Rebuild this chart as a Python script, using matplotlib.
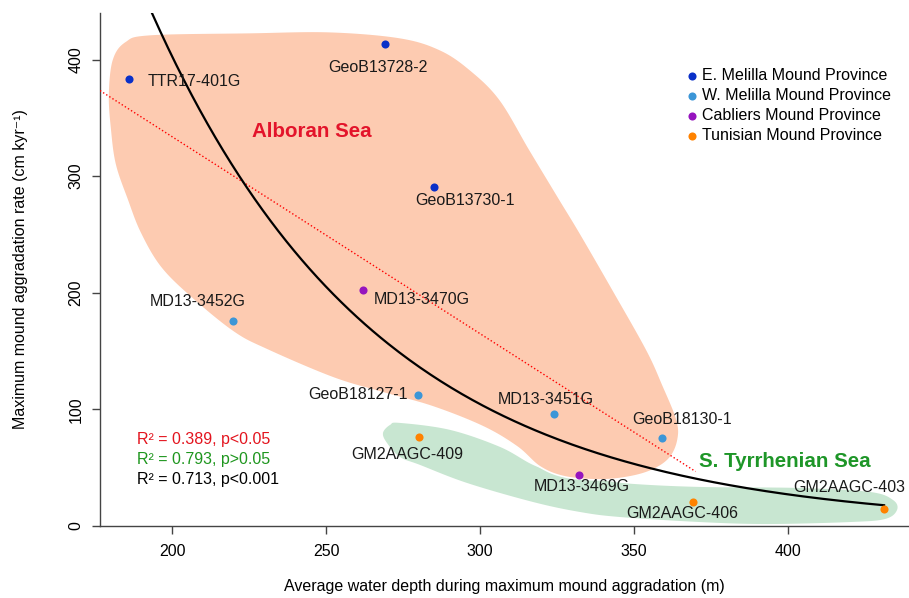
import numpy as np
import matplotlib
matplotlib.use("Agg")
import matplotlib.pyplot as plt

plt.rcParams['font.family'] = ['Liberation Sans', 'DejaVu Sans']

# cores, water depth (m) and max aggradation rate (cm/kyr)
cores = ['TTR17-401G', 'GeoB13728-2', 'GeoB13730-1', 'MD13-3452G', 'MD13-3470G',
         'GeoB18127-1', 'MD13-3451G', 'GM2AAGC-409', 'MD13-3469G', 'GeoB18130-1',
         'GM2AAGC-406', 'GM2AAGC-403']
depth = np.array([185.9, 269.2, 285.0, 219.9, 262.1, 280.0, 324.0, 280.1, 332.2, 359.0, 369.2, 431.2])
rate = np.array([383.4, 413.5, 290.4, 175.4, 202.6, 112.7, 95.9, 76.4, 43.8, 75.5, 20.9, 14.3])
province = ['E', 'E', 'E', 'W', 'C', 'W', 'W', 'T', 'C', 'W', 'T', 'T']
sea = ['A', 'A', 'A', 'A', 'A', 'A', 'A', 'T', 'A', 'A', 'T', 'T']

prov_names = {'E': 'E. Melilla Mound Province', 'W': 'W. Melilla Mound Province',
              'C': 'Cabliers Mound Province', 'T': 'Tunisian Mound Province'}
prov_cols = {'E': '#0a30c8', 'W': '#3c96d7', 'C': '#9614be', 'T': '#ff8200'}

# exponential fit over all cores: rate = a*exp(b*depth)
exp_a = 5982.0
exp_b = -0.01349
# red linear fit over the Alboran cores only, drawn up to this depth
lin_end = 370.0

# outlines of the two sea groups
alb_x = [179.2, 180.5, 184.7, 192.9, 225.3, 251.3, 274.0, 287.0, 296.8, 306.5, 316.2, 326.0,
         332.5, 343.2, 354.2, 359.4, 364.0, 364.3, 361.7, 356.2, 348.7, 339.0, 327.6, 319.5,
         312.0, 301.0, 284.7, 268.5, 252.3, 230.8, 219.8, 205.8, 196.1, 189.6, 185.4, 181.5, 179.9]
alb_y = [370.0, 400.0, 415.5, 421.5, 423.2, 424.0, 418.9, 408.6, 391.4, 365.7, 322.7, 279.8,
         251.5, 202.6, 151.1, 121.0, 91.0, 73.8, 58.4, 48.1, 42.1, 39.5, 42.1, 50.6,
         67.8, 85.0, 102.1, 114.2, 127.0, 151.1, 166.5, 196.6, 222.3, 251.5, 279.8, 309.9, 339.9]
tyr_x = [268.5, 270.8, 274.0, 290.3, 306.5, 317.2, 326.0, 339.0, 349.7, 371.4, 403.9, 426.6,
         434.1, 435.4, 431.5, 420.1, 393.2, 371.4, 345.5, 332.5, 317.2, 295.8, 280.5, 274.0, 269.8]
tyr_y = [79.8, 86.7, 88.4, 82.4, 67.8, 52.4, 44.6, 39.5, 36.1, 33.5, 32.6, 29.2,
         22.3, 13.7, 6.0, 3.4, 1.7, 3.4, 7.7, 12.0, 20.6, 36.9, 52.4, 59.2, 71.2]

# label offsets in pixels (dx, dy, ha)
lab_pos = {
    'TTR17-401G': (19, -3, 'left'), 'GeoB13728-2': (-7, -24, 'center'),
    'GeoB13730-1': (31, -13, 'center'), 'MD13-3452G': (-36, 20, 'center'),
    'MD13-3470G': (10, -10, 'left'), 'GeoB18127-1': (-11, 0, 'right'),
    'MD13-3451G': (-8, 15, 'center'), 'GM2AAGC-409': (-11, -18, 'center'),
    'MD13-3469G': (3, -12, 'center'), 'GeoB18130-1': (20, 18, 'center'),
    'GM2AAGC-406': (-11, -12, 'center'), 'GM2AAGC-403': (-35, 22, 'center'),
}


def smooth_closed(xs, ys, n=24):
    # closed catmull-rom spline through the outline points
    pts = np.column_stack([xs, ys])
    m = len(pts)
    t = np.linspace(0, 1, n, endpoint=False)[:, None]
    out = []
    for i in range(m):
        p0, p1, p2, p3 = pts[i - 1], pts[i], pts[(i + 1) % m], pts[(i + 2) % m]
        seg = 0.5 * (2 * p1 + (-p0 + p2) * t + (2 * p0 - 5 * p1 + 4 * p2 - p3) * t ** 2
                     + (-p0 + 3 * p1 - 3 * p2 + p3) * t ** 3)
        out.append(seg)
    return np.vstack(out)


fig = plt.figure(figsize=(9.09, 5.98), dpi=100)
ax = fig.add_axes([0.110, 0.1204, 0.890, 0.858])
xmin, xmax = 176.6, 439.3
ax.set_xlim(xmin, xmax)
ax.set_ylim(0, 440)

tyr = smooth_closed(tyr_x, tyr_y)
ax.fill(tyr[:, 0], tyr[:, 1], color='#c8e6d1', lw=0, zorder=1)
alb = smooth_closed(alb_x, alb_y)
ax.fill(alb[:, 0], alb[:, 1], facecolor='#fdcbb1', edgecolor='white', lw=1.2, zorder=2)

# linear fit, Alboran Sea
depth_a = np.array([d for d, s in zip(depth, sea) if s == 'A'])
rate_a = np.array([r for r, s in zip(rate, sea) if s == 'A'])
k, c = np.polyfit(depth_a, rate_a, 1)
xl = np.linspace(xmin, lin_end, 50)
ax.plot(xl, k * xl + c, ':', color='red', lw=1.0, zorder=3)

# exponential fit, all cores
xe = np.linspace(xmin, depth.max(), 300)
ax.plot(xe, exp_a * np.exp(exp_b * xe), color='black', lw=1.6, zorder=4)

for p in ['E', 'W', 'C', 'T']:
    sel = [i for i, q in enumerate(province) if q == p]
    ax.scatter(depth[sel], rate[sel], s=34, color=prov_cols[p], lw=0,
               label=prov_names[p], zorder=5)

for name, x, y in zip(cores, depth, rate):
    dx, dy, ha = lab_pos[name]
    ax.annotate(name, (x, y), xytext=(dx, dy), textcoords='offset pixels',
                ha=ha, va='center', fontsize=11.5, color='#1a1a1a', zorder=6)

ax.text(226.0, 338.2, 'Alboran Sea', color='#e3142b', fontsize=14.8,
        fontweight='bold', ha='left', va='center')
ax.text(371.1, 54.9, 'S. Tyrrhenian Sea', color='#1e9628', fontsize=14.8,
        fontweight='bold', ha='left', va='center')

ax.text(188.6, 73.8, 'R² = 0.389, p<0.05', color='#e3141e', fontsize=11.5, va='center')
ax.text(188.6, 56.7, 'R² = 0.793, p>0.05', color='#1e961e', fontsize=11.5, va='center')
ax.text(188.6, 39.5, 'R² = 0.713, p<0.001', color='black', fontsize=11.5, va='center')

leg = ax.legend(loc='upper left', bbox_to_anchor=(670 / 909, 1 - 54 / 598),
                bbox_transform=fig.transFigure, frameon=False, fontsize=11.5,
                handletextpad=0.1, labelspacing=0.3, handlelength=1.0,
                scatterpoints=1, markerscale=1.0)

for s in ['top', 'right']:
    ax.spines[s].set_visible(False)
for s in ['left', 'bottom']:
    ax.spines[s].set_color('#444444')
    ax.spines[s].set_linewidth(1.0)

ax.set_xticks([200, 250, 300, 350, 400])
ax.set_yticks([0, 100, 200, 300, 400])
ax.tick_params(axis='both', direction='out', length=6, width=1.0, color='#444444',
               labelsize=11.5)
ax.tick_params(axis='x', pad=7)
ax.tick_params(axis='y', pad=6)
for lab in ax.get_yticklabels():
    lab.set_rotation(90)
    lab.set_va('center')

ax.set_xlabel('Average water depth during maximum mound aggradation (m)',
              fontsize=11.5, labelpad=14)
ax.set_ylabel('Maximum mound aggradation rate (cm kyr⁻¹)', fontsize=11.5, labelpad=29)

fig.savefig('out.png', dpi=100)
